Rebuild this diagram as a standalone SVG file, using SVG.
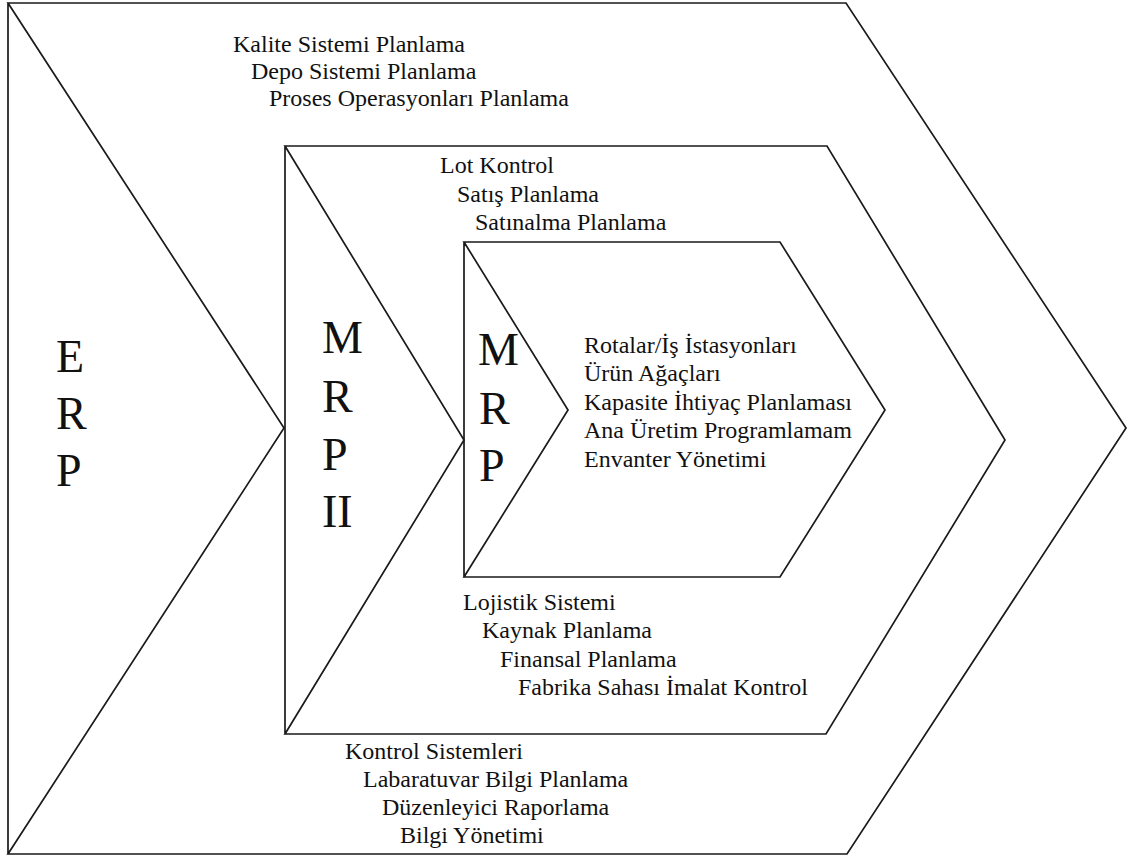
<svg xmlns="http://www.w3.org/2000/svg" width="1128" height="858" viewBox="0 0 1128 858">
<style>
.shape{fill:none;stroke:#1a1a1a;stroke-width:1.7;stroke-linejoin:miter}
.t{font-family:"Liberation Serif","Times New Roman",serif;font-size:24px;fill:#111}
.big{font-family:"Liberation Serif","Times New Roman",serif;font-size:46px;fill:#111}
</style>
<rect width="1128" height="858" fill="#fff"/>
<g id="erp">
<path class="shape" d="M8,3 L846,3 L1126,428 L847,854 L8,854 L284,428 Z M8,3 L8,854"/>
<text class="big" x="56" y="372">E</text>
<text class="big" x="56" y="429">R</text>
<text class="big" x="56" y="486">P</text>
<text class="t" x="233" y="52">Kalite Sistemi Planlama</text>
<text class="t" x="251" y="79">Depo Sistemi Planlama</text>
<text class="t" x="269" y="106">Proses Operasyonları Planlama</text>
<text class="t" x="345" y="759">Kontrol Sistemleri</text>
<text class="t" x="363" y="787">Labaratuvar Bilgi Planlama</text>
<text class="t" x="382" y="815">Düzenleyici Raporlama</text>
<text class="t" x="400" y="843">Bilgi Yönetimi</text>
</g>
<g id="mrp2">
<path class="shape" d="M285,146 L827,146 L1005,440 L826,734 L285,734 L464,440 Z M285,146 L285,734"/>
<text class="big" x="322" y="353">M</text>
<text class="big" x="322" y="412">R</text>
<text class="big" x="322" y="470">P</text>
<text class="big" x="322" y="527">II</text>
<text class="t" x="440" y="173">Lot Kontrol</text>
<text class="t" x="457" y="202">Satış Planlama</text>
<text class="t" x="475" y="230">Satınalma Planlama</text>
<text class="t" x="463" y="610">Lojistik Sistemi</text>
<text class="t" x="482" y="638">Kaynak Planlama</text>
<text class="t" x="500" y="667">Finansal Planlama</text>
<text class="t" x="518" y="695">Fabrika Sahası İmalat Kontrol</text>
</g>
<g id="mrp">
<path class="shape" d="M464,242 L780,242 L885,410 L780,577 L464,577 L568,410 Z M464,242 L464,577"/>
<text class="big" x="478" y="365">M</text>
<text class="big" x="479" y="424">R</text>
<text class="big" x="479" y="481">P</text>
<text class="t" x="584" y="353">Rotalar/İş İstasyonları</text>
<text class="t" x="584" y="381">Ürün Ağaçları</text>
<text class="t" x="584" y="410">Kapasite İhtiyaç Planlaması</text>
<text class="t" x="584" y="438">Ana Üretim Programlamam</text>
<text class="t" x="584" y="467">Envanter Yönetimi</text>
</g>
<g id="connectors"/>
</svg>
